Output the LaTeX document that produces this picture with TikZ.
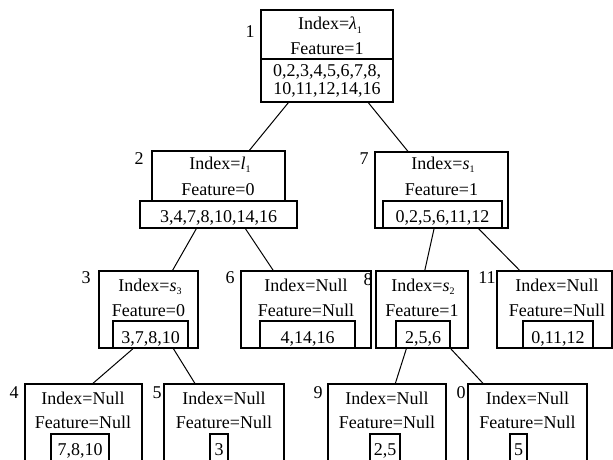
\documentclass[tikz,border=0pt]{standalone}
\usepackage{fontspec}
\setmainfont{Liberation Serif}
\usetikzlibrary{calc}
\newcommand\sbs[1]{\raisebox{-3.5pt}{\fontsize{10}{10}\selectfont #1}}
\tikzset{
  obox/.style={draw, line width=1.3pt, rectangle, inner sep=0pt},
  ibox/.style={draw, line width=1.5pt, rectangle, inner sep=0pt, fill=white},
  txt/.style={anchor=base, inner sep=0pt, font=\fontsize{18}{20}\selectfont},
  numlbl/.style={inner sep=0pt, font=\fontsize{18}{20}\selectfont},
  edge/.style={line width=1pt}
}
\begin{document}
\begin{tikzpicture}[x=1pt,y=-1pt]
\useasboundingbox (0,0) rectangle (613,460);
% node 1
\node[obox, minimum width=132pt, minimum height=92pt] (n1) at (327,56) {};
\node[ibox, minimum width=132pt, minimum height=43pt] (n1i) at (327,80.5) {};
\node[txt] (t1a) at (330,30) {Index=\textit{λ}\sbs{1}};
\node[txt] (t1b) at (327,55) {Feature=1};
\node[txt] (t1c) at (327,77) {0,2,3,4,5,6,7,8,};
\node[txt] (t1d) at (327,95) {10,11,12,14,16};
\node[numlbl] (l1) at (250,32) {1};
% node 2
\node[obox, minimum width=133pt, minimum height=77pt] (n2) at (218.5,189.5) {};
\node[ibox, minimum width=157pt, minimum height=27pt] (n2i) at (218.5,214.5) {};
\node[txt] (t2a) at (220,169) {Index=\textit{l}\sbs{1}};
\node[txt] (t2b) at (218,195) {Feature=0};
\node[txt] (t2c) at (218.5,222) {3,4,7,8,10,14,16};
\node[numlbl] (l2) at (139,159) {2};
% node 7
\node[obox, minimum width=133pt, minimum height=76pt] (n7) at (441.5,190) {};
\node[ibox, minimum width=119pt, minimum height=27pt] (n7i) at (442.5,214.5) {};
\node[txt] (t7a) at (443,169) {Index=\textit{s}\sbs{1}};
\node[txt] (t7b) at (441.5,195) {Feature=1};
\node[txt] (t7c) at (442.5,222) {0,2,5,6,11,12};
\node[numlbl] (l7) at (364,159) {7};
% node 3
\node[obox, minimum width=99pt, minimum height=77pt] (n3) at (148.5,309.5) {};
\node[ibox, minimum width=75pt, minimum height=27pt] (n3i) at (150.5,334.5) {};
\node[txt] (t3a) at (150,291) {Index=\textit{s}\sbs{3}};
\node[txt] (t3b) at (148.5,316) {Feature=0};
\node[txt] (t3c) at (150.5,343) {3,7,8,10};
\node[numlbl] (l3) at (86,278) {3};
% node 6
\node[obox, minimum width=130pt, minimum height=77pt] (n6) at (306,309.5) {};
\node[ibox, minimum width=95pt, minimum height=27pt] (n6i) at (307.5,334.5) {};
\node[txt] (t6a) at (306,291) {Index=Null};
\node[txt] (t6b) at (306,316) {Feature=Null};
\node[txt] (t6c) at (307.5,343) {4,14,16};
\node[numlbl] (l6) at (230,278) {6};
% node 8
\node[obox, minimum width=92pt, minimum height=77pt] (n8) at (422,309.5) {};
\node[ibox, minimum width=54pt, minimum height=27pt] (n8i) at (423,334.5) {};
\node[txt] (t8a) at (423,291) {Index=\textit{s}\sbs{2}};
\node[txt] (t8b) at (422,316) {Feature=1};
\node[txt] (t8c) at (423,343) {2,5,6};
\node[numlbl] (l8) at (368,280) {8};
% node 11
\node[obox, minimum width=115pt, minimum height=77pt] (n11) at (554.5,309.5) {};
\node[ibox, minimum width=70pt, minimum height=27pt] (n11i) at (558,334.5) {};
\node[txt] (t11a) at (557,291) {Index=Null};
\node[txt] (t11b) at (557,316) {Feature=Null};
\node[txt] (t11c) at (558,343) {0,11,12};
\node[numlbl] (l11) at (487,278) {11};
% node 4
\node[obox, minimum width=117pt, minimum height=77pt] (n4) at (83.5,422.5) {};
\node[ibox, minimum width=58pt, minimum height=27pt] (n4i) at (80,447.5) {};
\node[txt] (t4a) at (83,404) {Index=Null};
\node[txt] (t4b) at (83,428) {Feature=Null};
\node[txt] (t4c) at (80,455) {7,8,10};
\node[numlbl] (l4) at (14,393) {4};
% node 5
\node[obox, minimum width=120pt, minimum height=77pt] (n5) at (224,422.5) {};
\node[ibox, minimum width=18pt, minimum height=27pt] (n5i) at (219,447.5) {};
\node[txt] (t5a) at (224,404) {Index=Null};
\node[txt] (t5b) at (224,428) {Feature=Null};
\node[txt] (t5c) at (219,455) {3};
\node[numlbl] (l5) at (157,393) {5};
% node 9
\node[obox, minimum width=118pt, minimum height=77pt] (n9) at (387,422.5) {};
\node[ibox, minimum width=30pt, minimum height=27pt] (n9i) at (385,447.5) {};
\node[txt] (t9a) at (387,404) {Index=Null};
\node[txt] (t9b) at (387,428) {Feature=Null};
\node[txt] (t9c) at (385,455) {2,5};
\node[numlbl] (l9) at (318,393) {9};
% node 0
\node[obox, minimum width=119pt, minimum height=77pt] (n0) at (527.5,422.5) {};
\node[ibox, minimum width=17pt, minimum height=27pt] (n0i) at (518.5,447.5) {};
\node[txt] (t0a) at (527.5,404) {Index=Null};
\node[txt] (t0b) at (527.5,428) {Feature=Null};
\node[txt] (t0c) at (518.5,455) {5};
\node[numlbl] (l0) at (461,393) {0};
% connectors
\draw[edge] ($(n1i.south west)!0.21!(n1i.south east)$) -- ($(n2.north west)!0.73!(n2.north east)$);
\draw[edge] ($(n1i.south west)!0.81!(n1i.south east)$) -- ($(n7.north west)!0.25!(n7.north east)$);
\draw[edge] ($(n2i.south west)!0.36!(n2i.south east)$) -- ($(n3.north west)!0.74!(n3.north east)$);
\draw[edge] ($(n2i.south west)!0.67!(n2i.south east)$) -- ($(n6.north west)!0.25!(n6.north east)$);
\draw[edge] ($(n7i.south west)!0.43!(n7i.south east)$) -- ($(n8.north west)!0.53!(n8.north east)$);
\draw[edge] ($(n7i.south west)!0.80!(n7i.south east)$) -- ($(n11.north west)!0.20!(n11.north east)$);
\draw[edge] ($(n3i.south west)!0.27!(n3i.south east)$) -- ($(n4.north west)!0.58!(n4.north east)$);
\draw[edge] ($(n3i.south west)!0.80!(n3i.south east)$) -- ($(n5.north west)!0.26!(n5.north east)$);
\draw[edge] ($(n8i.south west)!0.20!(n8i.south east)$) -- ($(n9.north west)!0.57!(n9.north east)$);
\draw[edge] (n8i.south east) -- ($(n0.north west)!0.13!(n0.north east)$);
\end{tikzpicture}
\end{document}
